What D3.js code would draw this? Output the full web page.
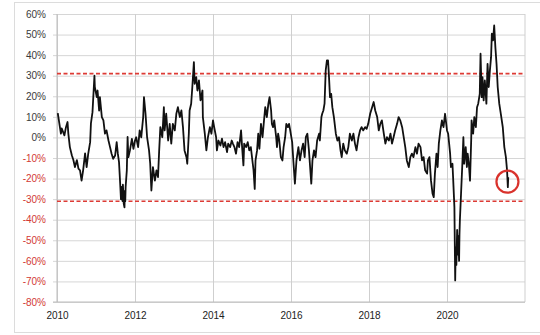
<!DOCTYPE html>
<html><head><meta charset="utf-8">
<script src="https://cdn.jsdelivr.net/npm/d3@7"></script>
<style>body{margin:0;background:#fff;} svg{display:block;}</style>
</head><body>
<svg id="chart" width="540" height="335"></svg>
<script>
const dates = [2010.02,2010.10,2010.12,2010.19,2010.23,2010.27,2010.29,2010.33,2010.38,2010.42,2010.46,2010.51,2010.55,2010.59,2010.63,2010.67,2010.72,2010.76,2010.80,2010.85,2010.87,2010.91,2010.96,2010.97,2011.02,2011.04,2011.08,2011.10,2011.15,2011.19,2011.23,2011.27,2011.32,2011.36,2011.40,2011.44,2011.49,2011.53,2011.56,2011.59,2011.62,2011.64,2011.65,2011.66,2011.68,2011.69,2011.70,2011.71,2011.73,2011.74,2011.75,2011.76,2011.79,2011.81,2011.83,2011.87,2011.92,2011.96,
2012.00,2012.03,2012.08,2012.12,2012.16,2012.21,2012.23,2012.27,2012.31,2012.36,2012.39,2012.42,2012.46,2012.51,2012.55,2012.59,2012.62,2012.65,2012.70,2012.74,2012.76,2012.80,2012.85,2012.89,2012.93,2012.97,2013.02,2013.06,2013.10,2013.15,2013.19,2013.23,2013.27,2013.32,2013.34,2013.38,2013.40,2013.44,2013.47,2013.51,2013.53,2013.57,2013.60,2013.64,2013.68,2013.73,2013.74,2013.79,2013.83,2013.87,2013.92,2013.96,
2014.00,2014.03,2014.08,2014.10,2014.14,2014.19,2014.23,2014.27,2014.31,2014.36,2014.39,2014.44,2014.48,2014.51,2014.55,2014.59,2014.63,2014.67,2014.72,2014.74,2014.78,2014.80,2014.85,2014.89,2014.93,2014.97,2015.02,2015.04,2015.07,2015.09,2015.13,2015.16,2015.19,2015.23,2015.27,2015.30,2015.34,2015.38,2015.42,2015.45,2015.49,2015.51,2015.54,2015.57,2015.62,2015.64,2015.67,2015.70,2015.74,2015.78,2015.81,2015.85,2015.88,2015.92,2015.95,2015.98,
2016.03,2016.06,2016.10,2016.14,2016.19,2016.23,2016.27,2016.31,2016.35,2016.38,2016.42,2016.46,2016.49,2016.52,2016.55,2016.59,2016.63,2016.67,2016.72,2016.74,2016.78,2016.80,2016.83,2016.86,2016.89,2016.92,2016.95,2016.97,2017.00,2017.03,2017.06,2017.10,2017.15,2017.19,2017.23,2017.27,2017.30,2017.34,2017.38,2017.43,2017.47,2017.51,2017.56,2017.60,2017.64,2017.68,2017.73,2017.77,2017.81,2017.85,2017.90,2017.94,2017.98,
2018.03,2018.08,2018.12,2018.16,2018.21,2018.25,2018.29,2018.33,2018.38,2018.42,2018.46,2018.51,2018.55,2018.59,2018.63,2018.67,2018.72,2018.76,2018.80,2018.85,2018.89,2018.93,2018.97,2019.02,2019.06,2019.10,2019.14,2019.19,2019.23,2019.27,2019.32,2019.36,2019.40,2019.44,2019.49,2019.51,2019.55,2019.59,2019.63,2019.66,2019.69,2019.73,2019.76,2019.79,2019.83,2019.87,2019.91,2019.95,
2020.00,2020.03,2020.08,2020.10,2020.14,2020.16,2020.19,2020.21,2020.22,2020.23,2020.24,2020.26,2020.27,2020.28,2020.29,2020.31,2020.32,2020.33,2020.36,2020.39,2020.42,2020.44,2020.48,2020.51,2020.53,2020.56,2020.59,2020.62,2020.63,2020.67,2020.70,2020.74,2020.77,2020.80,2020.84,2020.86,2020.89,2020.91,2020.94,2020.97,2021.01,2021.04,2021.07,2021.10,2021.13,2021.15,2021.18,2021.21,2021.24,2021.27,2021.30,2021.34,2021.38,2021.43,2021.47,2021.51,2021.54,2021.56,2021.57];
const values = [11.8,1.8,4.4,1.0,5,7.5,2,-4.7,-8.7,-11,-14.4,-11,-15.2,-16,-21,-16,-7.8,-14.4,-8,-2.3,6.8,12.3,30,24.5,19.6,22.8,13,19.6,9.9,8.3,1.8,3.4,-1.5,-4.7,-7.9,-10.4,-8.8,-2.3,-7.9,-12,-22.5,-30,-24,-29,-31,-23,-27,-32,-34,-26,-31,-24,-16,0.2,-9.6,-6.3,-0.7,-5.5,
-1.5,0.1,-4.7,3.4,0,9.9,19.6,11.5,0.1,-6.3,-12.8,-25.8,-14.4,-21,-16,-19.3,-6.3,5,0.1,14.7,3.4,11.5,-1.5,6.6,-3,6.6,3.4,11.5,14.7,9.9,13.1,5,-6.3,-9.6,-12.8,1.8,13.1,16.4,24.5,36.6,26.1,29.3,22.8,27.7,18,22.8,9.9,1.8,-6.3,0.1,5,1.8,
8.3,5,0.1,-6.3,-1.5,-3.9,-0.6,-4.7,-2.3,-7.1,-3,-4.7,-1.5,-3,-4.7,-7.9,-2.3,-4.7,3.4,-3,-13.6,-3,-4.7,-2.3,-6.3,-4.7,-12.8,-16,-25,-11.2,-6.3,1.8,-5.5,6.6,0.1,6.6,14.7,9.9,16.4,19.6,13.1,6.6,5,8.3,0.1,-4.7,1.8,-1.5,-9.6,-11.2,-4.7,0.1,6.6,5,6.6,3.4,
-2.3,-11.2,-22.5,-11.2,-4.7,-11.2,-6.3,-3,-9.6,0.1,1.8,-6.3,-14.4,-22.5,-11.2,-6.3,-9.6,-1.5,1.8,-1.5,9.9,11.5,13.1,16.4,32.6,37.4,37.4,31,19.6,21.2,14.7,9.9,1.8,-1.5,0.1,-6.3,-9.6,-3,-6.3,-7.9,-4.7,1.8,-1.5,1.8,-3,-6.3,0.1,3.4,5,3.4,5,4.2,6.6,
11.5,14.7,17.2,13.1,9.9,3.4,6.6,8.3,1.8,-3,0.1,-1.5,1.8,-3,0.1,3.4,6.6,9.9,8.3,5,0.1,-4.7,-11.2,-14.4,-9.6,-7.9,-9.6,-4.7,-7.9,-3,-4.7,-11.2,-9.6,-16,-17.6,-11.2,-9.6,-21,-27.4,-29,-17.6,-7.9,-14.4,-3,3.4,8.3,5,11.5,
3.4,1.8,-7.9,-14.4,-12.8,-21,-33.9,-69.5,-58,-53.3,-62,-45,-52,-57,-48,-60,-47,-40.4,-27.4,-14.4,0.1,-12.8,-4.7,-14.4,-7.9,-12.8,-21,-1.5,8.3,1.8,9.9,5,14.7,16.4,21.2,40.7,19.6,29.3,18,27.7,16.4,35.8,24.5,32.6,39,50.4,47.2,54.4,43.9,35.8,24.5,16.4,11.5,5,-4.7,-9.6,-16,-24.2,-19.3];
const yTicks = [60,50,40,30,20,10,0,-10,-20,-30,-40,-50,-60,-70,-80];
const xTicks = [2010,2012,2014,2016,2018,2020];
const thresholds = [31,-31];
const highlightDate = 2021.55, highlightValue = -21.5;

const svg = d3.select("#chart");
const x = d3.scaleLinear().domain([2010,2022]).range([57,525]);
const y = d3.scaleLinear().domain([-80,60]).range([302,14]);

svg.append("rect").attr("x",14.5).attr("y",2.5).attr("width",540).attr("height",330)
  .attr("fill","none").attr("stroke","#dcdcdc");

const yAxis = d3.axisLeft(y).tickValues(yTicks).tickSize(-(525-53)).tickFormat(d=>d+"%");
const gy = svg.append("g").attr("transform","translate(53,0)").call(yAxis);
gy.select(".domain").remove();
gy.selectAll(".tick line").attr("stroke","#d6d6d6").attr("stroke-width",1);
gy.selectAll(".tick text").attr("x",-7).attr("fill",d=>d<0?"#d23a35":"#3a3a3a")
  .style("font-family","Liberation Sans, Arial, sans-serif").style("font-size","10px");

const xAxis = d3.axisBottom(x).tickValues(xTicks).tickSize(-(302-14)).tickFormat(d3.format("d"));
const gx = svg.append("g").attr("transform","translate(0,302)").call(xAxis);
gx.select(".domain").remove();
gx.selectAll(".tick line").attr("stroke","#cfcfcf").attr("stroke-width",1);
gx.selectAll(".tick text").attr("y",10).attr("fill","#222")
  .style("font-family","Liberation Sans, Arial, sans-serif").style("font-size","10px");

svg.append("line").attr("x1",x(2010)).attr("x2",x(2010)).attr("y1",y(60)).attr("y2",y(-80)).attr("stroke","#bdbdbd");
svg.append("line").attr("x1",x(2022)).attr("x2",x(2022)).attr("y1",y(60)).attr("y2",y(-80)).attr("stroke","#cfcfcf");
svg.append("line").attr("x1",53).attr("x2",x(2022)).attr("y1",y(-80)).attr("y2",y(-80)).attr("stroke","#bdbdbd");

svg.selectAll(".thr").data(thresholds).enter().append("line")
  .attr("x1",x(2010)).attr("x2",x(2022)).attr("y1",d=>y(d)).attr("y2",d=>y(d))
  .attr("stroke","#dd3b35").attr("stroke-width",1.6).attr("stroke-dasharray","4,2.5");

const data = dates.map((d,i)=>({d, v: values[i]}));
svg.append("path").datum(data)
  .attr("fill","none").attr("stroke","#111").attr("stroke-width",1.8).attr("stroke-linejoin","round")
  .attr("d", d3.line().x(p=>x(p.d)).y(p=>y(p.v)));

svg.append("circle").attr("cx",x(highlightDate)).attr("cy",y(highlightValue)).attr("r",11)
  .attr("fill","none").attr("stroke","#d9322c").attr("stroke-width",2.2);
</script>
</body></html>
